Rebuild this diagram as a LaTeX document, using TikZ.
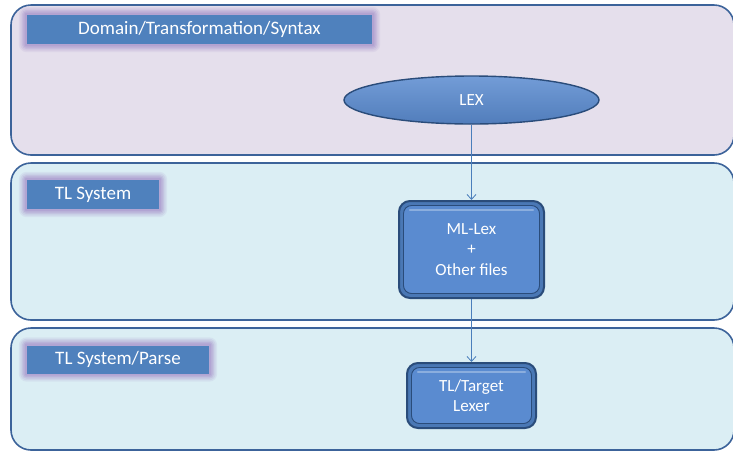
\documentclass[tikz,border=0pt]{standalone}
\usepackage{fontspec}
\setmainfont{Carlito}
\usetikzlibrary{shapes.geometric,arrows.meta}
\definecolor{panelline}{HTML}{3C639A}
\definecolor{lavender}{HTML}{E5DFEC}
\definecolor{paleblue}{HTML}{DBEEF4}
\definecolor{tagblue}{HTML}{4F81BD}
\definecolor{glowpurple}{HTML}{A996CC}
\definecolor{boxblue}{HTML}{5A8BD0}
\definecolor{boxring}{HTML}{4A78B5}
\definecolor{boxedge}{HTML}{2A4C7A}
\definecolor{flowline}{HTML}{4A7EBB}
\pgfdeclarelayer{bands}
\pgfdeclarelayer{halo}
\pgfsetlayers{bands,halo,main}
\tikzset{
  panel/.style={draw=panelline, line width=1.6pt, rounded corners=20pt},
  tag/.style={rectangle, fill=tagblue, text=white, inner sep=0pt,
    font=\fontsize{19}{22}\selectfont},
  halo/.style={fill=glowpurple},
  proc/.style={rectangle, rounded corners=11pt, fill=boxring, draw=boxedge,
    line width=2pt, text=white, align=center,
    font=\fontsize{17}{20.5}\selectfont,
    path picture={
      \draw[fill=boxblue, draw=boxedge, line width=0.9pt, rounded corners=8pt]
        ([shift={(4.5pt,4.5pt)}]path picture bounding box.south west) rectangle
        ([shift={(-4.5pt,-4.5pt)}]path picture bounding box.north east);
      \draw[white, opacity=0.3, line width=2.5pt, line cap=round]
        ([shift={(11pt,-9pt)}]path picture bounding box.north west) --
        ([shift={(-11pt,-9pt)}]path picture bounding box.north east);
    }},
  oval/.style={ellipse, top color=boxblue!85!white, bottom color=boxblue!90!black,
    draw=boxedge, line width=1.4pt, text=white,
    font=\fontsize{17}{20}\selectfont},
  flow/.style={draw=flowline, line width=0.8pt,
    -{Straight Barb[length=5pt,width=9pt,line width=0.8pt]}},
}
\begin{document}
\begin{tikzpicture}[x=1pt,y=-1pt]
\useasboundingbox (0,0) rectangle (733,451);

% three swim-lane panels
\begin{pgfonlayer}{bands}
  \path[panel, fill=lavender] (11,5) rectangle (734,155);
  \path[panel, fill=paleblue] (11,163) rectangle (734,320);
  \path[panel, fill=paleblue] (11,328) rectangle (734,450);
\end{pgfonlayer}

% lane titles
\node[tag, minimum width=345pt, minimum height=29pt] (t1) at (199.5,29.5) {Domain/Transformation/Syntax};
\node[tag, minimum width=132pt, minimum height=29pt] (t2) at (93,194.5) {TL System};
\node[tag, minimum width=182pt, minimum height=28pt] (t3) at (118,359.5) {TL System/Parse};

% soft purple halo behind each title
\begin{pgfonlayer}{halo}
  \foreach \t in {t1,t2,t3}{
    \foreach \g/\o in {8/0.14,6.5/0.18,5/0.25,3.5/0.35,2/0.45}{
      \fill[halo, opacity=\o, rounded corners=\g pt]
        ([shift={(-\g pt,-\g pt)}]\t.south west) rectangle
        ([shift={(\g pt,\g pt)}]\t.north east);
    }
  }
\end{pgfonlayer}

% process nodes
\node[oval, minimum width=255pt, minimum height=48pt] (lex) at (471.5,100) {LEX};
\node[proc, minimum width=145pt, minimum height=97pt] (ml) at (471.5,249.5) {ML-Lex\\+\\Other files};
\node[proc, minimum width=129pt, minimum height=65pt] (tl) at (471.5,395.5) {TL/Target\\Lexer};

% connectors
\draw[flow] (lex) -- (ml);
\draw[flow] (ml) -- (tl);
\end{tikzpicture}
\end{document}
